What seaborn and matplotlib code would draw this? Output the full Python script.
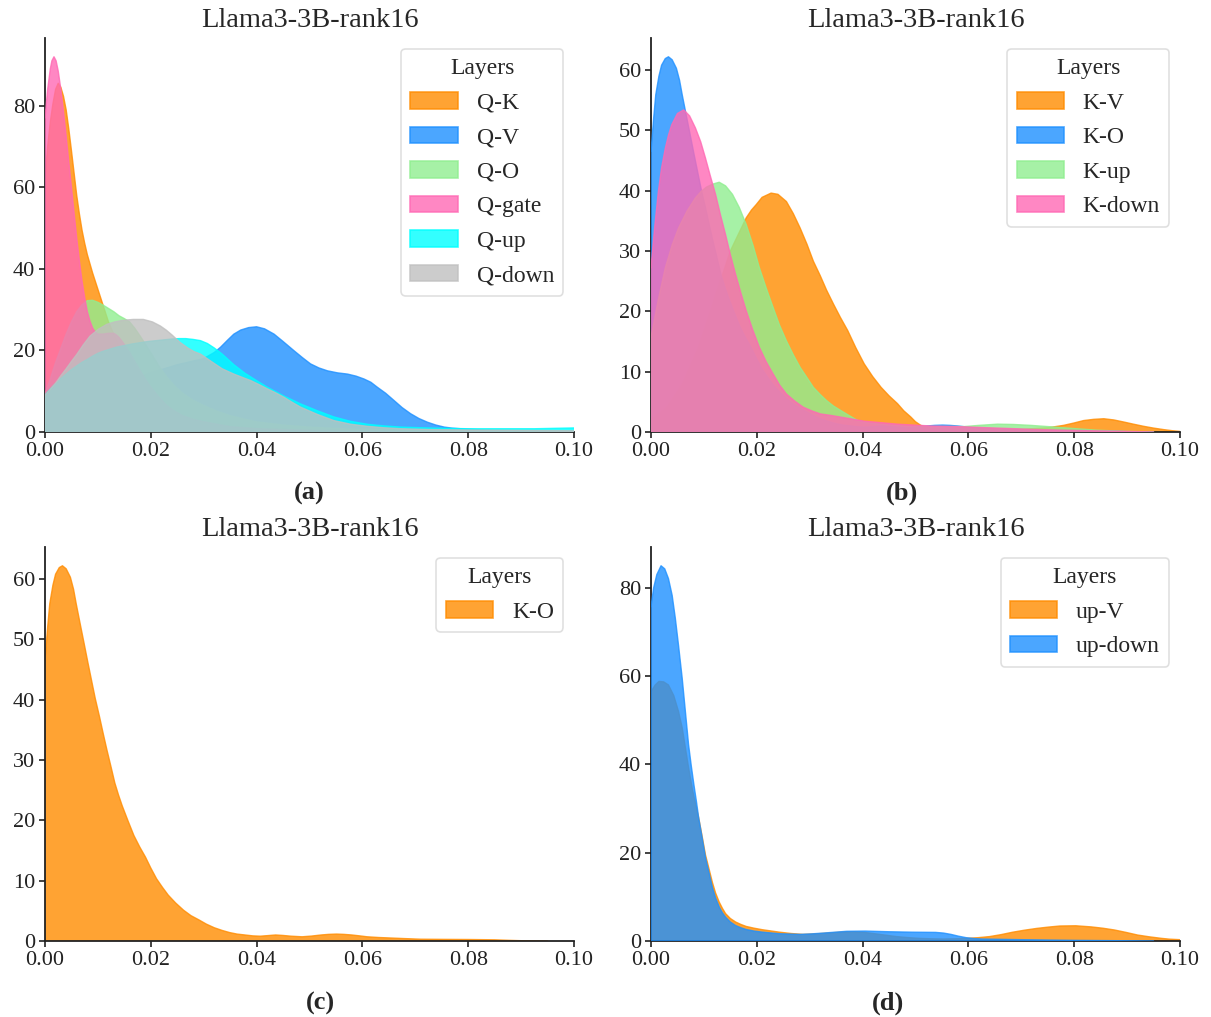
import matplotlib
matplotlib.use("Agg")
import matplotlib.pyplot as plt
from matplotlib.patches import Patch
from matplotlib.colors import to_rgba
import seaborn as sns

# ---------------- data: density curves (x = similarity, y = density) ----------------
TITLE = "Llama3-3B-rank16"
LEGEND_TITLE = "Layers"
PANEL_TAGS = ["(a)", "(b)", "(c)", "(d)"]
X_TICKS = [0.00, 0.02, 0.04, 0.06, 0.08, 0.10]

# panel (a)
a_names = ["Q-K", "Q-V", "Q-O", "Q-gate", "Q-up", "Q-down"]
qk_x = [0, 0.0005, 0.001, 0.0015, 0.002, 0.0025, 0.003, 0.0035, 0.004, 0.0045, 0.005, 0.0055,
        0.006, 0.0065, 0.007, 0.0075, 0.008, 0.009, 0.010, 0.011, 0.012, 0.013, 0.014, 0.015,
        0.016, 0.017, 0.018, 0.019, 0.020, 0.0215, 0.023, 0.0245, 0.026, 0.028, 0.030,
        0.0325, 0.035, 0.040, 0.050, 0.060, 0.080, 0.100]
qk_y = [62, 70, 76, 80.5, 84, 85.5, 84.5, 82.3, 79, 74.3, 69, 63.5,
        58, 53.5, 49.5, 46.3, 43.5, 39, 35, 31, 27, 24, 21, 18.4,
        16, 13.9, 12, 10.4, 9, 7.4, 6, 4.9, 4, 3.1, 2.5,
        1.9, 1.5, 1.0, 0.6, 0.4, 0.2, 0.1]
qv_x = [0, 0.005, 0.010, 0.015, 0.020, 0.025, 0.030, 0.032, 0.0332, 0.0345, 0.0357, 0.037,
        0.0385, 0.040, 0.0415, 0.0433, 0.045, 0.0471, 0.0487, 0.0502, 0.0518, 0.0534, 0.0553,
        0.0572, 0.0588, 0.0603, 0.0616, 0.0628, 0.0644, 0.066, 0.0675, 0.0691, 0.0707,
        0.0723, 0.0739, 0.0755, 0.077, 0.0786, 0.082, 0.085, 0.090, 0.100]
qv_y = [3, 6, 9, 12, 14.5, 16.5, 18, 19.5, 20.8, 22.5, 24, 25,
        25.6, 25.8, 25.3, 24, 22.2, 19.9, 18.2, 16.7, 15.7, 15, 14.5,
        14.2, 13.7, 13, 12.2, 11, 9.5, 7.7, 6, 4.5, 3.3,
        2.4, 1.7, 1.2, 0.95, 0.8, 0.55, 0.4, 0.3, 0.2]
qo_x = [0, 0.001, 0.002, 0.003, 0.004, 0.005, 0.006, 0.007, 0.008, 0.009, 0.010, 0.011,
        0.012, 0.013, 0.014, 0.015, 0.016, 0.017, 0.018, 0.019, 0.020, 0.0215, 0.023,
        0.0245, 0.026, 0.028, 0.030, 0.0325, 0.035, 0.0375, 0.040, 0.045, 0.050, 0.055,
        0.060, 0.070, 0.080, 0.100]
qo_y = [9.3, 13, 17, 20.5, 24, 27, 29.5, 31.2, 32.2, 32.3, 31.8, 31.1,
        30.3, 29.5, 28.5, 27.8, 27, 25.4, 23.5, 21.5, 19.5, 16.3, 13.5,
        11.3, 9.5, 7.8, 6.5, 5.1, 4, 3.2, 2.5, 1.7, 1.2, 0.85,
        0.6, 0.4, 0.3, 0.2]
qg_x = [0, 0.0005, 0.001, 0.0013, 0.0017, 0.0021, 0.0025, 0.003, 0.0035, 0.004, 0.0045,
        0.005, 0.0055, 0.006, 0.0065, 0.007, 0.0075, 0.008, 0.0085, 0.009, 0.0095, 0.010,
        0.011, 0.012, 0.013, 0.0135, 0.014, 0.015, 0.016, 0.017, 0.018, 0.019, 0.020,
        0.0215, 0.023, 0.0245, 0.026, 0.028, 0.030, 0.035, 0.040, 0.050, 0.070, 0.100]
qg_y = [77, 84, 89, 91, 92, 91, 88.5, 84, 78.5, 72.5, 66.2,
        60, 53.7, 47.5, 42, 37, 33, 29.5, 27.2, 25.5, 24.5, 24,
        24, 24.2, 24.2, 23.8, 23.2, 21.5, 19.5, 17.2, 15, 12.9, 11,
        8.6, 6.5, 5.1, 4, 3.1, 2.5, 1.3, 0.8, 0.4, 0.2, 0.1]
qu_x = [0, 0.001, 0.002, 0.003, 0.004, 0.005, 0.006, 0.007, 0.008, 0.009, 0.010, 0.011,
        0.012, 0.0135, 0.015, 0.0165, 0.018, 0.0195, 0.021, 0.0225, 0.024, 0.0253, 0.0266,
        0.028, 0.0294, 0.0307, 0.032, 0.0335, 0.0357, 0.0378, 0.040, 0.042, 0.0452, 0.0483,
        0.0515, 0.0546, 0.0578, 0.0609, 0.064, 0.0673, 0.0735, 0.0799, 0.0925, 0.100]
qu_y = [9, 10.5, 11.8, 13.1, 14.2, 15.3, 16.2, 17.1, 17.8, 18.6, 19.3, 19.8,
        20.2, 20.8, 21.2, 21.6, 21.9, 22.2, 22.4, 22.6, 22.8, 22.9, 22.9,
        22.7, 22.4, 21.7, 20.6, 19.1, 16.5, 14.4, 12.6, 11, 8.8, 6.9,
        5.2, 3.7, 2.6, 1.9, 1.5, 1.2, 0.95, 0.8, 0.8, 1.0]
qd_x = [0, 0.001, 0.002, 0.003, 0.004, 0.005, 0.006, 0.0072, 0.0085, 0.0101, 0.0117, 0.0132,
        0.0148, 0.0167, 0.0186, 0.0203, 0.0218, 0.0229, 0.024, 0.0255, 0.027, 0.0282, 0.0294,
        0.032, 0.0335, 0.0357, 0.0373, 0.0389, 0.0405, 0.042, 0.0436, 0.0452, 0.0467, 0.0483,
        0.0515, 0.0546, 0.0578, 0.0609, 0.064, 0.0673, 0.073, 0.080, 0.090, 0.100]
qd_y = [9, 10.5, 12, 13.8, 15.5, 17.3, 19, 21.3, 23.5, 25.2, 26.4, 27,
        27.4, 27.6, 27.6, 27.0, 26, 25, 23.8, 22, 20.6, 19.7, 19.1,
        16.8, 15.5, 14.2, 13.4, 12.6, 11.6, 10.6, 9.6, 8.5, 7.3, 6.1,
        4.3, 2.8, 1.9, 1.4, 1.05, 0.8, 0.6, 0.5, 0.4, 0.3]

# K-O curve (shared by panels b and c)
ko_x = [0, 0.0005, 0.0009, 0.0015, 0.002, 0.0027, 0.0033, 0.004, 0.0048, 0.0054, 0.0059,
        0.0066, 0.0074, 0.0081, 0.0088, 0.0095, 0.0103, 0.011, 0.0117, 0.0125, 0.0132,
        0.0139, 0.0146, 0.0157, 0.0168, 0.0179, 0.019, 0.020, 0.0211, 0.0222, 0.0233,
        0.0247, 0.0262, 0.0276, 0.0291, 0.0305, 0.032, 0.0335, 0.0349, 0.0363, 0.0378,
        0.0393, 0.0407, 0.0422, 0.0436, 0.045, 0.0465, 0.0486, 0.0504, 0.0522, 0.0536,
        0.0551, 0.0565, 0.058, 0.0595, 0.0609, 0.0631, 0.0653, 0.068, 0.071, 0.0755,
        0.080, 0.085, 0.0875, 0.090, 0.095]
ko_y = [46.5, 52, 55.9, 59, 60.8, 61.9, 62.2, 61.7, 60.3, 58.3, 55.9,
        52.8, 49.3, 46.2, 43.2, 40.2, 37.2, 34.4, 31.7, 28.8, 26.2,
        24.2, 22.4, 19.9, 17.5, 15.6, 13.9, 12.1, 10.3, 8.9, 7.6,
        6.3, 5.1, 4.2, 3.5, 2.8, 2.2, 1.75, 1.4, 1.15, 1.0,
        0.85, 0.8, 0.9, 1.0, 0.92, 0.8, 0.7, 0.82, 1.0, 1.1,
        1.15, 1.1, 1.0, 0.85, 0.7, 0.58, 0.5, 0.4, 0.3, 0.27,
        0.25, 0.2, 0.12, 0.05, 0.0]

# panel (b)
b_names = ["K-V", "K-O", "K-up", "K-down"]
kv_x = [0, 0.003, 0.006, 0.009, 0.012, 0.015, 0.018, 0.019, 0.0199, 0.021, 0.0227, 0.024,
        0.0256, 0.0269, 0.0282, 0.0295, 0.0307, 0.032, 0.0332, 0.0345, 0.0358, 0.0372,
        0.0387, 0.0403, 0.0419, 0.0435, 0.045, 0.0466, 0.0478, 0.0491, 0.050, 0.051, 0.052,
        0.053, 0.056, 0.060, 0.065, 0.070, 0.075, 0.078, 0.080, 0.0818, 0.0837, 0.0856,
        0.0875, 0.0894, 0.0912, 0.0931, 0.095, 0.0969, 0.0985, 0.100]
kv_y = [2, 4, 8, 14, 22, 30, 35.5, 36.8, 37.7, 38.9, 39.6, 39.4,
        38.2, 36.2, 33.8, 31.1, 28.3, 25.9, 23.5, 21.2, 19, 16.8,
        14, 11.3, 9.2, 7.4, 6, 4.7, 3.5, 2.5, 1.7, 1.1, 0.8,
        0.6, 0.45, 0.4, 0.35, 0.45, 0.7, 1.1, 1.5, 1.9, 2.1, 2.2,
        2.0, 1.65, 1.3, 0.95, 0.65, 0.4, 0.22, 0.1]
ku_x = [0, 0.0014, 0.0027, 0.004, 0.0052, 0.0068, 0.0084, 0.0095, 0.0105, 0.0117, 0.0129,
        0.0141, 0.0154, 0.0167, 0.018, 0.0193, 0.0205, 0.0218, 0.0231, 0.0243, 0.0256,
        0.0269, 0.0282, 0.0295, 0.0307, 0.032, 0.0332, 0.0345, 0.0358, 0.0375, 0.0391,
        0.041, 0.0435, 0.0497, 0.0592, 0.062, 0.0655, 0.0685, 0.0718, 0.075, 0.078,
        0.0843, 0.090, 0.095]
ku_y = [15.7, 22, 27.2, 31, 33.8, 36.6, 38.8, 39.9, 40.6, 41.1, 41.4,
        40.8, 39.4, 37.2, 34.4, 30.9, 27.2, 23.8, 20.6, 17.7, 15.1,
        12.8, 10.7, 9, 7.4, 6.2, 5.2, 4.3, 3.6, 2.7, 1.9,
        1.55, 1.3, 0.9, 0.9, 1.1, 1.3, 1.25, 1.1, 0.9, 0.7,
        0.3, 0.1, 0.0]
kd_x = [0, 0.0007, 0.0014, 0.002, 0.0027, 0.0033, 0.0039, 0.005, 0.0062, 0.0073, 0.0084,
        0.0094, 0.0103, 0.0112, 0.0122, 0.0131, 0.0141, 0.015, 0.016, 0.017, 0.018, 0.0192,
        0.0205, 0.0218, 0.0231, 0.0243, 0.0256, 0.0272, 0.0288, 0.0304, 0.032, 0.034,
        0.0403, 0.0466, 0.0529, 0.0579, 0.0655, 0.0718, 0.078, 0.090, 0.095]
kd_y = [27.2, 34, 39.9, 43.8, 47, 49.2, 50.9, 52.8, 53.4, 52.4, 50.4,
        48.1, 45.4, 42.5, 39.4, 36.1, 32.7, 29.4, 26.1, 23, 20.1, 17,
        14, 11.6, 9.6, 7.8, 6.3, 5.1, 4.1, 3.5, 3.0, 2.75,
        1.8, 1.3, 1.0, 0.9, 0.65, 0.45, 0.3, 0.1, 0.0]

# panel (c)
c_names = ["K-O"]

# panel (d)
d_names = ["up-V", "up-down"]
uv_x = [0, 0.0008, 0.0015, 0.0024, 0.0033, 0.0043, 0.0052, 0.0059, 0.0065, 0.0071, 0.0078,
        0.0084, 0.009, 0.0097, 0.0103, 0.011, 0.0116, 0.0122, 0.0129, 0.0135, 0.0141, 0.015,
        0.016, 0.017, 0.018, 0.0195, 0.0211, 0.0243, 0.0265, 0.0287, 0.0316, 0.0346, 0.0365,
        0.0383, 0.040, 0.042, 0.0442, 0.0464, 0.0485, 0.0507, 0.053, 0.0552, 0.0574, 0.0596,
        0.0618, 0.064, 0.0662, 0.0684, 0.0706, 0.0729, 0.0751, 0.0773, 0.0803, 0.0832,
        0.0854, 0.0876, 0.0898, 0.092, 0.0942, 0.0965, 0.098, 0.100]
uv_y = [56.5, 58, 58.8, 58.7, 58, 55.6, 52, 48.3, 43.8, 39.3, 34.5,
        31.2, 28, 23.5, 19.5, 16.2, 13.3, 10.9, 8.8, 7.4, 6.2, 5.1,
        4.3, 3.75, 3.3, 2.9, 2.55, 2.0, 1.7, 1.5, 1.65, 1.9, 2.05,
        2.1, 2.0, 1.7, 1.35, 1.0, 0.78, 0.6, 0.5, 0.45, 0.5, 0.6,
        0.75, 1.0, 1.45, 2.0, 2.45, 2.85, 3.15, 3.4, 3.45, 3.2,
        2.9, 2.5, 1.95, 1.35, 0.95, 0.6, 0.42, 0.3]
ud_x = [0, 0.0005, 0.0011, 0.0019, 0.0026, 0.0033, 0.004, 0.0046, 0.0052, 0.0059, 0.0065,
        0.0071, 0.0076, 0.0081, 0.0086, 0.009, 0.0097, 0.0103, 0.011, 0.0116, 0.0122, 0.0129,
        0.0135, 0.0141, 0.015, 0.016, 0.017, 0.018, 0.0195, 0.0211, 0.0243, 0.0282, 0.0304,
        0.0326, 0.037, 0.0405, 0.0449, 0.0493, 0.0538, 0.0553, 0.0567, 0.0581, 0.0596,
        0.0611, 0.0626, 0.070, 0.080, 0.090, 0.095]
ud_y = [75.7, 80, 83, 85, 84.3, 82.1, 78.3, 73.1, 67, 59.5, 52,
        44.5, 39.8, 35.5, 31.5, 28, 23.2, 18.9, 15.3, 12.2, 9.8, 7.7,
        6.4, 5.4, 4.3, 3.5, 3.0, 2.6, 2.25, 2.0, 1.65, 1.5, 1.62,
        1.8, 2.2, 2.25, 2.1, 2.0, 1.95, 1.8, 1.5, 1.1, 0.75,
        0.55, 0.45, 0.3, 0.15, 0.05, 0.0]

# series colours in legend order
COLORS = ["darkorange", "dodgerblue", "lightgreen", "hotpink", "cyan", "silver"]
ALPHA = 0.8

panels = [
    (a_names, [(qk_x, qk_y), (qv_x, qv_y), (qo_x, qo_y), (qg_x, qg_y), (qu_x, qu_y), (qd_x, qd_y)]),
    (b_names, [(kv_x, kv_y), (ko_x, ko_y), (ku_x, ku_y), (kd_x, kd_y)]),
    (c_names, [(ko_x, ko_y)]),
    (d_names, [(uv_x, uv_y), (ud_x, ud_y)]),
]

# ---------------- style ----------------
sns.set_style("ticks")
plt.rcParams["font.family"] = ["Liberation Serif", "DejaVu Serif"]
plt.rcParams["axes.edgecolor"] = "#222222"
plt.rcParams["axes.linewidth"] = 1.3
plt.rcParams["xtick.color"] = "#222222"
plt.rcParams["ytick.color"] = "#222222"

W, H = 1211, 1017
fig = plt.figure(figsize=(W / 100, H / 100), dpi=100)

# axes boxes in pixels: (left, top, right, bottom)
boxes = [(45, 38, 574, 432), (651, 38, 1180, 432),
         (45, 547, 574, 941), (651, 547, 1180, 941)]
tag_pos = [(309, 493), (902, 493), (320, 1003), (888, 1003)]

for idx, ((names, series), box) in enumerate(zip(panels, boxes)):
    l, t, r, b = box
    ax = fig.add_axes([l / W, 1 - b / H, (r - l) / W, (b - t) / H])
    handles = []
    peak = 0
    for i, (name, (xs, ys)) in enumerate(zip(names, series)):
        col = COLORS[i]
        ax.fill_between(xs, ys, 0, facecolor=col, edgecolor="none", alpha=ALPHA, zorder=2 + i)
        sns.lineplot(x=xs, y=ys, color=col, alpha=ALPHA, lw=1.0, ax=ax,
                     estimator=None, sort=False, zorder=2 + i)
        peak = max(peak, max(ys))
        handles.append(Patch(facecolor=to_rgba(col, ALPHA), edgecolor=to_rgba(col, ALPHA),
                             lw=1.2, label=name))
    ax.set_xlim(0, 0.1)
    ax.set_ylim(0, peak * 1.05)
    ax.set_xticks(X_TICKS)
    ax.set_xticklabels([f"{v:.2f}" for v in X_TICKS])
    ax.set_xlabel("")
    ax.set_ylabel("")
    ax.tick_params(labelsize=16, length=4.5, width=1.2, pad=2.5)
    sns.despine(ax=ax)
    ax.set_title(TITLE, fontsize=20.5, pad=8)
    leg = ax.legend(handles=handles, title=LEGEND_TITLE, loc="upper right",
                    fontsize=17, title_fontsize=17, frameon=True, fancybox=True,
                    framealpha=0.8, borderaxespad=0.45, labelspacing=0.55)
    leg.get_frame().set_edgecolor("#d8d8d8")
    leg.get_frame().set_linewidth(1.2)
    tx, ty = tag_pos[idx]
    fig.text(tx / W, 1 - ty / H, PANEL_TAGS[idx], ha="center", va="center",
             fontsize=19, fontweight="bold")

fig.savefig("out.png", dpi=100, facecolor="white")
